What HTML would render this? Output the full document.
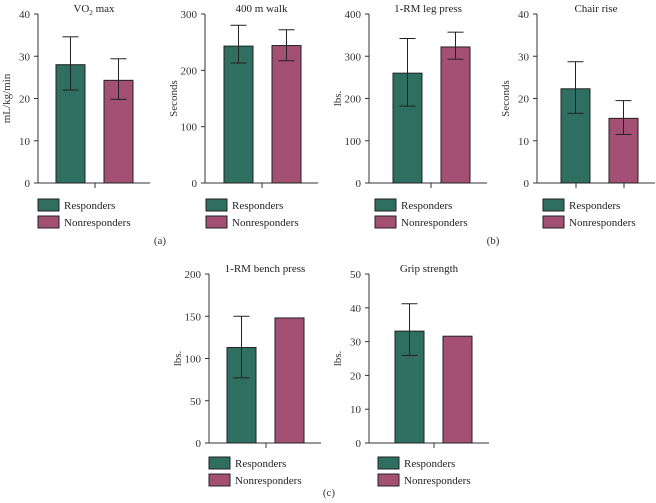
<!DOCTYPE html>
<html><head><meta charset="utf-8"><style>
body{margin:0;background:#fff;}
svg{display:block;font-family:"Liberation Serif",serif;}
</style></head><body>
<svg id="c" width="656" height="503" viewBox="0 0 656 503"></svg>
<script>
const titles=["VO2 max","400 m walk","1-RM leg press","Chair rise","1-RM bench press","Grip strength"];
const yLabels=["mL/kg/min","Seconds","lbs.","Seconds","lbs.","lbs."];
const yMax=[40,300,400,40,200,50];
const yStep=[10,100,100,10,50,10];
const respMean=[28,243,260,22.3,113,33.1];
const respHi=[34.6,280,342,28.7,150,41.2];
const respLo=[22,213,182,16.5,77,25.9];
const nonMean=[24.3,244,322,15.3,148,31.6];
const nonHi=[29.4,272,357,19.5,null,null];
const nonLo=[19.8,217,293,11.5,null,null];
const seriesNames=["Responders","Nonresponders"];
const panels=[
 {ax:38,top:14,base:183,b1:56,b2:104,tick:[95],lx:38,ly:199},
 {ax:205,top:14,base:183,b1:224,b2:272,tick:[262],lx:206,ly:199},
 {ax:369,top:14,base:183,b1:393,b2:441,tick:[431],lx:375,ly:199},
 {ax:537,top:14,base:183,b1:561,b2:609,tick:[576,624],lx:543,ly:199},
 {ax:209,top:274,base:443,b1:227,b2:275,tick:[266],lx:209,ly:457},
 {ax:369,top:274,base:443,b1:395,b2:443,tick:[434],lx:378,ly:457}
];
const colors=["#2f6f5f","#a35073"];
const svg=document.getElementById('c');
const NS="http://www.w3.org/2000/svg";
function mk(tag,attrs,parent){const e=document.createElementNS(NS,tag);for(const k in attrs)e.setAttribute(k,attrs[k]);(parent||svg).appendChild(e);return e;}
panels.forEach((p,i)=>{
 const g=mk('g',{});
 
 
 const y=v=>p.base-(v/yMax[i])*(p.base-p.top);
 const axEnd=p.b2+29+17;
 const ya=mk('line',{x1:p.ax,y1:p.top,x2:p.ax,y2:p.base,stroke:'#333','stroke-width':1},g);
 
 
 const xa=mk('line',{x1:p.ax,y1:p.base,x2:axEnd,y2:p.base,stroke:'#333','stroke-width':1},g);
 
 
 p.tick.forEach(t=>mk('line',{x1:t,y1:p.base,x2:t,y2:p.base+5,stroke:'#333'},g));
 for(let v=0;v<=yMax[i];v+=yStep[i]){
  mk('line',{x1:p.ax-4,y1:y(v),x2:p.ax,y2:y(v),stroke:'#333'},g);
  const t=mk('text',{x:p.ax-8,y:y(v)+4,'text-anchor':'end','font-size':11,fill:'#333'},g);
  t.textContent=v;
  
  
 }
 const tt=mk('text',{x:(p.ax+axEnd)/2,y:p.top-2,'text-anchor':'middle','font-size':11,fill:'#222'},g);
 
 
 if(i===0){tt.innerHTML='VO<tspan font-size="7" dy="3">2</tspan><tspan dy="-3"> max</tspan>';}else tt.textContent=titles[i];
 const yl=mk('text',{x:0,y:0,'text-anchor':'middle','font-size':11,fill:'#333',transform:`translate(${p.ax-28},${(p.top+p.base)/2}) rotate(-90)`},g);
 yl.textContent=yLabels[i];
 
 
 const bars=[[p.b1,respMean[i],respHi[i],respLo[i]],[p.b2,nonMean[i],nonHi[i],nonLo[i]]];
 bars.forEach((b,j)=>{
  const r=mk('rect',{x:b[0],y:y(b[1]),width:29,height:p.base-y(b[1]),fill:colors[j],stroke:'#222','stroke-width':1},g);
  
  
  if(b[2]!=null){
   const cx=b[0]+14.5;
   mk('line',{x1:cx,y1:y(b[2]),x2:cx,y2:y(b[3]),stroke:'#222'},g);
   mk('line',{x1:cx-8,y1:y(b[2]),x2:cx+8,y2:y(b[2]),stroke:'#222'},g);
   mk('line',{x1:cx-8,y1:y(b[3]),x2:cx+8,y2:y(b[3]),stroke:'#222'},g);
  }
 });
 seriesNames.forEach((n,j)=>{
  const sw=mk('rect',{x:p.lx,y:p.ly+j*17,width:21,height:12,fill:colors[j],stroke:'#222'},g);
  
  
  const lt=mk('text',{x:p.lx+26,y:p.ly+j*17+10,'font-size':11,fill:'#222'},g);
  lt.textContent=n;
  
  
 });
});
[["(a)",160,244],["(b)",493,244],["(c)",329,496]].forEach(l=>{
 const t=mk('text',{x:l[1],y:l[2],'text-anchor':'middle','font-size':11,fill:'#333'});
 t.textContent=l[0];
 
 
});
</script>
</body></html>
